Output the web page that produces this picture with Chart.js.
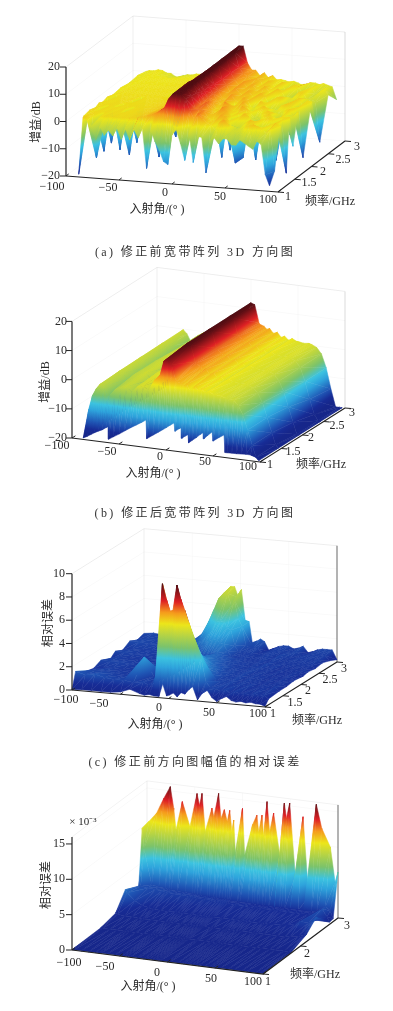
<!DOCTYPE html>
<html>
<head>
<meta charset="utf-8">
<script src="https://cdn.jsdelivr.net/npm/chart.js@4.4.1/dist/chart.umd.js"></script>
<style>
  body { margin: 0; background: #fff; width: 393px; height: 1011px; position: relative; overflow: hidden; filter: blur(0.45px); }
  canvas { position: absolute; left: 0; }
  .caption { position: absolute; left: 0; width: 390px; text-align: center; color: #333; letter-spacing: 2.4px;
             font: 12px "Liberation Serif", "Noto Sans CJK SC"; white-space: pre; }
</style>
</head>
<body>
<canvas id="chartA" width="393" height="265" style="top:0"></canvas>
<canvas id="chartB" width="393" height="260" style="top:265px"></canvas>
<canvas id="chartC" width="393" height="250" style="top:525px"></canvas>
<canvas id="chartD" width="393" height="236" style="top:775px"></canvas>
<div class="caption" style="top:242px">(a) 修正前宽带阵列 3D 方向图</div>
<div class="caption" style="top:503px">(b) 修正后宽带阵列 3D 方向图</div>
<div class="caption" style="top:752px">(c) 修正前方向图幅值的相对误差</div>
<script>
// --- DATA ---
const angleTicks = [-100, -50, 0, 50, 100];
const freqTicks = [1, 1.5, 2, 2.5, 3];
const freqTicksD = [1, 2, 3];
const gainTicks = [-20, -10, 0, 10, 20];
const errorTicksC = [0, 2, 4, 6, 8, 10];
const errorTicksD = [0, 5, 10, 15];

// (a) gain in dB, one row per frequency
const aAngles = [-88,-84,-80,-76,-72,-68,-64,-60,-56,-52,-48,-44,-40,-36,-32,-28,-24,-20,-16,-12,-8,-4,0,4,8,12,16,20,24,28,32,36,40,44,48,52,56,60,64,68,72,76,80,84,88,92];
const aFreqs = [1, 1.15, 1.32, 1.5, 1.6, 1.7, 1.85, 2, 2.25, 2.5, 2.75, 3];
const aRows = [
  [-19,2,1,-1,-6,-1,-4,-2,-4,-1,-5,-1,-5,-1,-4,-.5,-15,-1,-5,-8,-12,-13,-2,0,-5,-11,-1,-11.5,-2,-2,-15,-3,-2,-4,-2,-2,-4,-4,-2,-3,-4,-5,-2,-3,-14,-18],
  [1,1.5,1.2,-14,1.2,1.5,1.3,1.5,1.3,1.5,1.4,1.6,1.6,2,2.2,2.8,3.2,4,5, 6,9.5,11.5,11.8,11.8,10, 6,3,5,3.5,1.8,1.3,-.5,2.3,3.3,1.8,-.5,-1,-.5,1.3,1.8,2.3,1.8,1.3,-.5,1.3,-14],
  [1.5,1.2,1.4,1.2,1.4,1.2,1.4,1.3,1.4,1.4,1.4,1.5,1.6,1.8,2,2.5,3,3.8,4.8, 5.5,8.5,11.5,12,12,9.5, 5,5,4.5,2,1.3,1.8,3.3,2.8,1.3,-.5,-1,-.5,1.3,2.3,1.8,-.5,-1,-.5,1.3,1.8,1],
  [.8,1.4,-15,1.4,1.2,1.4,1.2,1.4,-15.6,1.3,1.4,1.4,1.5,1.6,1.8,-15.6,2.7,3.4,4.4, 5,7.5,11.5,12,12,9, 4.5,5.5,3,1.5,2.8,4.3,2.8,1.3,-15.7,1.3,2.5,1.8,-.5,-1,-.5,1.3,1.8,1.3,-.5,1.3,-18],
  [1.5,1.2,1.3,1.4,1.2,-15,1.3,1.3,1.3,1.4,1.3,1.4,1.4,1.5,1.7,2,2.5,3.2,4.2, 5,7,11.5,12,12,8.5, 5,5,2,1,-15,3.8,1.8,-.5,1.8,-14.6,1.8,-.5,-15,-.5,1.5,2.1,1.3,-.8,1.3,1.3,1.5],
  [.8,1.3,1.2,1.3,1.3,1.2,1.3,1.3,1.3,1.3,1.3,1.3,1.4,1.5,1.6,1.8,2.3,3,4, 4.5,6.5,11,12,12,8, 5.5,4,1.5,2,4.3,2.8,1.3,1.3,3.1,2.3,1,-1,-.5,1.3,2.1,1.8,-15.6,-1,1.3,-.5,-10],
  [1.4,-15.4,1.3,1.2,1.3,1.2,1.3,-14.5,1.3,1.2,1.3,1.3,1.3,1.4,1.5,1.7,2.1,2.7,3.7, 4.5,6,11,12,12,8, 5.5,3,1.5,3.5,-14.7,1.3,1.8,3.3,1.8,-.5,-.5,1.5,2.3,1.5,-.7,-1,-.5,1.3,1.8,-.5,1],
  [.6,1.2,1.1,1.2,1.2,1.1,1.2,1.2,1.2,1.2,1.2,1.2,1.3,1.3,1.4,1.6,2,2.5,3.4, 4,5.5,10.5,12,12,7.5, 5.5,2.5,2.5,4,2.3,1.3,3.3,2.3,-.5,-.5,2.3,1.5,-.8,-1,-.5,1.5,2.1,1.1,-.7,1.3,-17],
  [1,.8,1.1,1,1.1,1,1.1,1,1.1,1.1,1.1,1.1,1.1,-15.5,1.3,1.5,1.8,2.3,3, 4,5,10,12,12,7, 5,2,4,2.5,1.3,3.3,1.8,-.5,2.8,1.8,-.8,-.7,1.8,2.1,-.5,-1,1.1,1.8,-.5,1.3,1],
  [.4,1,.8,1,.9,1,.9,1,.9,1,1,1,1,1.1,1.2,1.3,1.6,2,2.7, 3.5,4,9.5,12,12,7, 4.5,2.5,4,1.5,3.3,1.8,1.3,2.8,1.3,-.8,2.3,1.5,-1,-14,-.7,1.6,1.6,-.7,-.5,-1.5,-16],
  [.8,.5,.9,.8,.9,.8,.9,.8,.8,.9,.8,.9,.9,1,1,1.2,1.4,1.8,2.5, 3,3.5,9,12,12,6.5, 4.5,3.5,2,3,2.3,-.5,2.5,1.1,-.5,2.1,-.7,-1,1.6,1.1,-1.3,-.8,1.1,-.7,-1.3,1.1,-1],
  [0,.5,.5,1,.8,0,0,-1,-1.5,-.5,0,0,.5,.5,.5,1,1,1.5,2, 3,2.5,8,12,12,6, 3.5,3.5,1.5,2.8,1,2,.5,.8,.5,0,.5,0,-.8,-.2,.5,.5,0,.5,0,-.5,-5]
];

// (b) gain in dB after correction
const bAngles = [-88,-84,-80,-76,-72,-68,-64,-61.7,-61,-56,-50,-44,-38,-32,-26,-21.3,-20.5,-14,-8,-4,0,4,8.5,9.6,14,16,17,20,23.4,24,28,32,36,39.4,40.4,44,49,50,56,61.7,62.8,65,70,75,80,85,90,94,97];
const bFreqs = [1, 1.04, 1.5, 2, 2.5, 3];
const bRows = [
  [-19.5,-18.8,-18,-17.2,-16.5,-15.9,-15,-14.6,-18.8,-17.8,-16.6,-15.3,-14,-12.8,-11.6,-10.6,-17,-15.5,-14.2,-13.3,-12.4,-11.4,-10.4,-13.2,-12.1,-11.8,-15.3,-14.5,-13.8,-16.6,-15.5,-14.5,-13.3,-12.5,-14.5,-13.3,-11.8,-14.9,-13.5,-12.3,-18.3,-18.3,-18.2,-18.2,-18.1,-18,-18,-18,-18.5],
  [-19,-10,-5,-2.5,-.8,-1.5,-5,-6,-4,-2,-1,-.5,-2,0,.5,-.5,-1,3,5,10,11,9,4,3.5,3,2.4,2,3,1.2,1,2.5,1.5,2,1.1,1,1.5,.6,.7,.5,0,-.1,-.3,-.3,-2,-5,-10,-15,-19,-20],
  [-19,-9,-4.5,-2,-.5,-1,-3,-6,-5,-1,-.5,0,-2,.5,1,-.8,-1,2,4,9.5,12,11.5,6,5.5,4.5,3.8,3.5,4,2.6,2.5,3,1.5,2,.9,.8,1.5,.7,.8,.4,.6,.5,.3,-.5,-2,-5,-10,-15,-19,-20],
  [-19,-9,-4.5,-2,-.4,-1,-3.5,-5.5,-5,-1,-.3,0,-2,.5,1,-.8,-1,1.5,3,9,12,11.5,6,5.5,4.5,3.8,3.5,4,2.6,2.5,3,1.5,2,.9,.8,1.5,.7,.8,.4,.6,.5,.3,-.5,-2.5,-6,-11,-16,-20,-20],
  [-19.5,-10,-5,-2.5,-.3,-1.5,-4,-5.5,-5,-1.5,-.3,0,-2.5,.5,1,-1.2,-1.5,1,2.5,9,12,11.5,6,5.5,4.5,3.8,3.5,4,2.6,2.5,3,1.5,2,.9,.8,1.5,.7,.8,.4,.6,.5,.3,-.5,-2.5,-7,-13,-18,-20,-20],
  [-20,-11,-5.5,-2.5,-.2,-1.5,-4,-5.5,-5,-1.5,-.3,0,-3,.5,1,-1.7,-2,.5,2,8.5,12,11.5,5.5,5,4.5,3.8,3.5,4,2.6,2.5,3,1.5,2,.9,.8,1.5,.7,.8,.4,.6,.5,.3,-.5,-2.5,-7,-14,-20,-20,-20]
];

// (c) relative error before correction
const cAngles = [-100,-90,-80,-70,-60,-50,-40,-30,-25,-20,-15,-10,-6,-2,1,5,9,13,17,21,25,30,35,40,45,50,55,60,65,70,75,80,85,90,95,100];
const cFreqs = [1, 1.1, 1.4, 1.6, 1.8, 2.06, 2.2, 2.4, 2.6, 2.8, 3];
const cRows = [
  [.05,.1,.1,.1,.1,.2,.5,.2,.1,.2,.1,.1,1.2,.2,.3,.5,.2,.6,.5,.9,1.2,.1,.7,1,.4,.1,.4,.6,.3,.2,.3,.2,.3,.2,.2,.05],
  [1.4,1.2,1.3,1.1,1,1,.9,1,.8,1,2,9.6,8.3,7.3,7.4,9.6,8.4,7.5,6.5,5.5,4.5,3.5,1.5,1,1,.8,1,.7,.9,.7,.8,.7,.9,.7,.8,.5],
  [.85,1,1,.9,.8,.9,2.5,.9,.8,.9,1,4,4,3.5,3.5,4,4,3.5,3,2.5,2,1.5,1,1,.9,1,.8,.9,.8,.9,.7,.8,.8,.7,.9,.6],
  [.7,.8,.9,.8,.8,.8,.9,.9,.8,.8,.9,2.5,2.8,2.6,2.7,2.8,2.8,2.5,2.2,1.8,1.6,1.2,1,.9,.9,1,.8,.9,.8,.8,.7,.8,.7,.8,.8,.6],
  [1,1,1,.9,.8,.9,.9,.9,.8,.8,.9,1.5,1.8,1.8,2,2,2,1.8,1.6,1.4,1.3,1,1,.9,.9,1,.8,.9,.8,.8,.7,.8,.7,.8,.7,.7],
  [.6,.9,.8,.8,.8,.8,.9,.8,.8,.8,.9,1.3,1.4,1.5,1.6,1.7,1.6,1.4,1.3,1.1,1,.9,.9,.8,.9,.9,.9,.8,.8,.7,.8,.7,.7,.8,.7,.6],
  [1,1,.9,.9,.8,.8,.9,.9,.8,.9,1,1.2,1.2,1.3,1.5,1.6,1.5,1.3,1.2,1,1,.9,.9,.8,.9,.8,1,.8,.9,.7,.8,.7,.8,.7,.8,.7],
  [.7,.9,.9,.9,.8,.8,.9,1.1,1.2,1.5,1.8,2.2,2.3,2.3,2.1,2,1.4,1,.9,.9,.9,.8,.8,.8,.9,.8,.9,.8,.8,.8,.8,.8,.8,.8,.8,.6],
  [1.1,1.1,1,1,.9,.9,1,1.5,2,2.5,3,3.5,3.5,3.5,3,2.8,1.5,1,.9,.9,.9,.8,.8,.9,.9,.8,1,.9,.8,.8,.9,.8,.9,.8,.9,.7],
  [.8,1,1,.9,.9,1,1.3,2,3,4,5,5.5,5.5,4.5,5,3.5,2.8,1.2,1,1,1,.7,.8,.9,.9,.9,.9,.9,1,.8,.8,.9,.9,.9,.9,.5],
  [1,1.1,1,1,.9,.9,.8,1.8,2.8,3.8,4.8,5.7,5.7,4.8,5.5,2.8,2.8,.6,1.2,1.4,1.2,.4,.7,.9,1,1,.8,.9,1.1,.6,.7,.9,1,1,1,.2]
];

// (d) relative error after correction, x 10^-3
const dAngles = [-100,-98,-90,-82.5,-75.6,-72,-69.6,-63,-55,-47.6,-45,-42.4,-39,-32,-30,-25,-22.5,-19,-16,-13.4,-11,-9.2,-7.5,0,2.3,10.6,15,17,20.4,22,25.7,28.4,32.6,39,43.8,46,49.4,55.3,63.4,69.3,77.3,83,92,97,100];
const dFreqs = [1, 1.76, 2.16, 2.42, 2.78, 2.87, 3];
const dRows = [
  [.05,.05,.05,.05,.05,.05,.05,.05,.05,.05,.05,.05,.05,.05,.05,.05,.05,.05,.05,.05,.05,.05,.05,.05,.05,.05,.05,.05,.05,.05,.05,.05,.05,.05,.05,.05,.05,.05,.05,.05,.05,.05,.05,.05,.05],
  [.1,.1,.1,.1,.1,.1,.1,.1,.1,.1,.1,.1,.1,.1,.1,.1,.1,.1,.1,.1,.1,.1,.1,.1,.1,.1,.1,.1,.1,.1,.1,.1,.1,.1,.1,.1,.1,.1,.1,.1,.1,.1,.1,.1,.1],
  [.6,.5,.4,.4,.3,.3,.3,.3,.3,.3,.3,.3,.3,.3,.3,.3,.3,.3,.3,.3,.3,.3,.3,.3,.3,.3,.3,.3,.3,.3,.3,.3,.3,.3,.3,.3,.3,.3,.3,.3,.3,.4,.6,.8,1],
  [2.9,2.5,1.5,1,.8,.6,.7,.6,.6,.7,.6,.6,.6,.6,.6,.6,.6,.6,.6,.6,.6,.6,.6,.6,.6,.6,.6,.6,.6,.6,.6,.6,.6,.6,.6,.6,.6,.7,.7,.8,1,1.5,1.5,2,2.4],
  [2,2,1.9,1.8,1.7,1.6,1.6,1.5,1.5,1.4,1.4,1.4,1.3,1.3,1.3,1.3,1.2,1.2,1.2,1.2,1.2,1.2,1.1,1.1,1.1,1.1,1,1,1,1,1,1,1,1,1,1,1,1,1,1,1,1.2,2,1,.3],
  [9.8,7,2,1.8,1.7,1.6,1.6,1.5,1.5,1.4,1.4,1.4,1.3,1.3,1.3,1.3,1.2,1.2,1.2,1.2,1.2,1.2,1.1,1.1,1.1,1.1,1,1,1,1,1,1,1,1,1,1,1,1,1,1,1,1.2,2,1.5,.4],
  [9.8,10.3,11.6,13.8,15.6,12.6,9.6,13.7,10.3,15.1,13.5,15.2,9.9,13.3,12.1,15.5,12,13.3,11.7,13.3,10.3,12,7.5,13.8,7.3,11.7,13.1,10.8,13.2,10.4,15.2,11,13.7,7.9,15.3,13.2,15.4,5.3,13.7,2.5,15.7,12.4,9.9,5,6.5]
];

// shared colour ramp, position 0..1 between the panel's zLow and zHigh
const rampStops = [0, .06, .14, .27, .35, .45, .58, .65, .75, .85, 1];
const rampColors = ['#16268a', '#172c96', '#1f55b4', '#2ea3dc', '#3cc3e0', '#7cc36a', '#c5d83a', '#ece61a', '#f59a1c', '#de2024', '#4e0c12'];

// --- PANELS ---
const FONT = '"Liberation Serif", "Noto Sans CJK SC"';

const panels = [
  { id: 'chartA', top: 0, bottom: 265, angles: aAngles, freqs: aFreqs, rows: aRows,
    ox: 66, oy: 176, ax: 212, ay: 16, fx: 67, fy: -51, zMin: -20, zMax: 20, zPx: 2.725, zLow: -20, zHigh: 12,
    zTicks: gainTicks, fTicks: freqTicks,
    angleAt: [[52,187],[108,188],[165,193],[220,197],[268,200]],
    freqAt: [[288,197],[309,183],[323,172],[343,160],[357,147]],
    zLabelX: 60, xName: [157,210], fName: [330,202], zName: '增益/dB', zNameAt: [37,122] },
  { id: 'chartB', top: 265, bottom: 525, angles: bAngles, freqs: bFreqs, rows: bRows,
    ox: 72, oy: 438, ax: 188, ay: 24, fx: 85, fy: -54, zMin: -20, zMax: 20, zPx: 2.915, zLow: -18, zHigh: 12,
    zTicks: gainTicks, fTicks: freqTicks,
    angleAt: [[57,446],[107,452],[160,457],[205,462],[248,467]],
    freqAt: [[270,465],[293,452],[311,438],[337,426],[352,413]],
    zLabelX: 67, xName: [153,474], fName: [321,465], zName: '增益/dB', zNameAt: [46,382] },
  { id: 'chartC', top: 525, bottom: 775, angles: cAngles, freqs: cFreqs, rows: cRows,
    ox: 72, oy: 690, ax: 193, ay: 17, fx: 72, fy: -45, zMin: 0, zMax: 10, zPx: 11.63, zLow: 0, zHigh: 9.6,
    zTicks: errorTicksC, fTicks: freqTicks, edge: 0.22,
    angleAt: [[66,700],[99,704],[159,708],[209,713],[258,714]],
    freqAt: [[273,714],[295,703],[308,691],[330,680],[344,669]],
    zLabelX: 65, xName: [155,725], fName: [317,721], zName: '相对误差', zNameAt: [49,623] },
  { id: 'chartD', top: 775, bottom: 1011, angles: dAngles, freqs: dFreqs, rows: dRows,
    ox: 72, oy: 950, ax: 191, ay: 24, fx: 75, fy: -56, zMin: 0, zMax: 16, zPx: 7.07, zLow: 0, zHigh: 16,
    zTicks: errorTicksD, fTicks: freqTicksD, edge: 0.22,
    angleAt: [[69,963],[105,967],[157,973],[211,979],[253,982]],
    freqAt: [[268,982],[307,954],[347,926]],
    zLabelX: 65, xName: [148,987], fName: [315,975], zName: '相对误差', zNameAt: [47,885], note: ['× 10⁻³', 83, 822] }
];

// --- FUNCTIONS ---

// axis values -> position on the page, the chart's own scales do the rest
function project(p, a, f, z) {
  return {
    x: p.ox + p.ax * (a + 100) / 200 + p.fx * (f - 1) / 2,
    y: p.oy + p.ay * (a + 100) / 200 + p.fy * (f - 1) / 2 - (z - p.zMin) * p.zPx,
    z: z
  };
}

function hexToRgb(h) {
  return [1, 3, 5].map(i => parseInt(h.substr(i, 2), 16));
}

function rampAt(t) {
  let i = 1;
  while (i < rampStops.length - 1 && rampStops[i] < t) i++;
  const k = Math.min(1, Math.max(0, (t - rampStops[i - 1]) / (rampStops[i] - rampStops[i - 1])));
  const c0 = hexToRgb(rampColors[i - 1]), c1 = hexToRgb(rampColors[i]);
  return `rgb(${c0.map((v, n) => Math.round(v + (c1[n] - v) * k)).join(',')})`;
}

// colour a triangle by its height: the gradient runs along the slope of its plane
function triangleFill(c, p, tri) {
  const sx = c.chart.scales.x, sy = c.chart.scales.y;
  const flat = rampAt(((tri[0].z + tri[1].z + tri[2].z) / 3 - p.zLow) / (p.zHigh - p.zLow));
  if (!sx || !sy) return flat;
  const [v0, v1, v2] = tri;
  const dx1 = v1.x - v0.x, dy1 = v1.y - v0.y, dz1 = v1.z - v0.z;
  const dx2 = v2.x - v0.x, dy2 = v2.y - v0.y, dz2 = v2.z - v0.z;
  const det = dx1 * dy2 - dx2 * dy1;
  if (Math.abs(det) < 1) return flat; // slivers would get wild gradients
  const gx = (dz1 * dy2 - dz2 * dy1) / det, gy = (dx1 * dz2 - dx2 * dz1) / det;
  const g2 = gx * gx + gy * gy;
  if (g2 < 1e-7) return flat;
  const at = z => ({ x: v0.x + gx * (z - v0.z) / g2, y: v0.y + gy * (z - v0.z) / g2 });
  const a = at(p.zLow), b = at(p.zHigh);
  const x0 = sx.getPixelForValue(a.x), y0 = sy.getPixelForValue(a.y);
  const x1 = sx.getPixelForValue(b.x), y1 = sy.getPixelForValue(b.y);
  if (![x0, y0, x1, y1].every(Number.isFinite)) return flat;
  const g = c.chart.ctx.createLinearGradient(x0, y0, x1, y1);
  rampStops.forEach((s, i) => g.addColorStop(s, rampColors[i]));
  return g;
}

function lineSet(points, color, width) {
  return { data: points, showLine: true, pointRadius: 0, borderColor: color, borderWidth: width, fill: false, clip: false };
}

function triangleSet(p, tri) {
  const fillFn = c => triangleFill(c, p, tri);
  return {
    data: [tri[0], tri[1], tri[2], tri[0]], showLine: true, pointRadius: 0, fill: 'shape', clip: false,
    tension: 0, backgroundColor: fillFn, borderColor: fillFn, borderWidth: 0.5
  };
}

function buildDatasets(p) {
  const back = [];
  const corner = (a, f, z) => project(p, a, f, z);

  // faint walls of the box
  const wall = 'rgba(0,0,0,0.05)', grid = 'rgba(0,0,0,0.025)';
  back.push(lineSet([corner(-100, 3, p.zMin), corner(-100, 3, p.zMax), corner(100, 3, p.zMax)], wall, 1));
  back.push(lineSet([corner(100, 3, p.zMax), corner(100, 3, p.zMin)], `rgba(0,0,0,${p.edge || 0.05})`, 1));
  back.push(lineSet([corner(-100, 1, p.zMax), corner(-100, 3, p.zMax)], wall, 1));
  p.zTicks.forEach(z => {
    back.push(lineSet([corner(-100, 1, z), corner(-100, 3, z), corner(100, 3, z)], grid, 1));
  });
  angleTicks.forEach(a => {
    back.push(lineSet([corner(a, 3, p.zMin), corner(a, 3, p.zMax)], grid, 1));
  });

  // surface: far rows first, low angles first inside a row
  for (let i = p.rows.length - 2; i >= 0; i--) {
    const near = p.rows[i], far = p.rows[i + 1];
    for (let j = 0; j < p.angles.length - 1; j++) {
      const n0 = project(p, p.angles[j], p.freqs[i], near[j]);
      const n1 = project(p, p.angles[j + 1], p.freqs[i], near[j + 1]);
      const f0 = project(p, p.angles[j], p.freqs[i + 1], far[j]);
      const f1 = project(p, p.angles[j + 1], p.freqs[i + 1], far[j + 1]);
      back.push(triangleSet(p, [n0, f0, f1]));
      back.push(triangleSet(p, [n0, f1, n1]));
    }
  }

  // black axes and ticks
  const ink = '#222';
  back.push(lineSet([corner(-100, 1, p.zMin), corner(-100, 1, p.zMax)], ink, 1.2));
  back.push(lineSet([corner(-100, 1, p.zMin), corner(100, 1, p.zMin), corner(100, 3, p.zMin)], ink, 1.2));
  p.zTicks.forEach(z => {
    const t = corner(-100, 1, z);
    back.push(lineSet([t, { x: t.x - 6, y: t.y }], ink, 1));
  });
  angleTicks.forEach(a => {
    back.push(lineSet([corner(a, 1, p.zMin), corner(a, 1.08, p.zMin)], ink, 1));
  });
  p.fTicks.forEach(f => {
    const t = corner(100, f, p.zMin);
    back.push(lineSet([t, { x: t.x + 6, y: t.y + 0.5 }], ink, 1));
  });

  // chart.js paints the first dataset last
  return back.reverse();
}

function tickName(v) {
  return String(v).replace('-', '−');
}

const axisText = {
  id: 'axisText',
  afterDraw(chart) {
    const p = chart.options.plugins.axisText.panel;
    const sx = chart.scales.x, sy = chart.scales.y, ctx = chart.ctx;
    const put = (text, x, y, align, size, rot) => {
      ctx.save();
      ctx.translate(sx.getPixelForValue(x), sy.getPixelForValue(y));
      if (rot) ctx.rotate(rot);
      ctx.font = size + 'px ' + FONT;
      ctx.fillStyle = '#2a2a2a';
      ctx.textAlign = align;
      ctx.textBaseline = 'middle';
      ctx.fillText(text, 0, 0);
      ctx.restore();
    };
    angleTicks.forEach((a, i) => put(tickName(a), p.angleAt[i][0], p.angleAt[i][1], 'center', 12));
    p.fTicks.forEach((f, i) => put(String(f), p.freqAt[i][0], p.freqAt[i][1], 'center', 12));
    p.zTicks.forEach(z => {
      const t = project(p, -100, 1, z);
      put(tickName(z), p.zLabelX, t.y, 'right', 12);
    });
    put('入射角/(° )', p.xName[0], p.xName[1], 'center', 12);
    put('频率/GHz', p.fName[0], p.fName[1], 'center', 12);
    put(p.zName, p.zNameAt[0], p.zNameAt[1], 'center', 12, -Math.PI / 2);
    if (p.note) put(p.note[0], p.note[1], p.note[2], 'center', 11);
  }
};

// --- START ---
panels.forEach(p => {
  new Chart(document.getElementById(p.id), {
    type: 'scatter',
    data: { datasets: buildDatasets(p) },
    plugins: [axisText],
    options: {
      responsive: false,
      animation: false,
      layout: { padding: 0 },
      scales: {
        x: { type: 'linear', min: 0, max: 393, display: false },
        y: { type: 'linear', min: p.top, max: p.bottom, reverse: true, display: false }
      },
      plugins: { legend: { display: false }, tooltip: { enabled: false }, axisText: { panel: p } }
    }
  });
});
</script>
</body>
</html>
